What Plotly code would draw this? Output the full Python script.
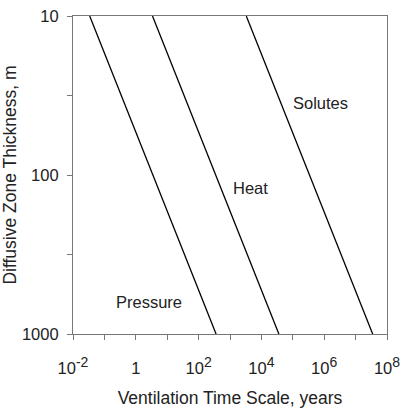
import plotly.graph_objects as go
import numpy as np

# Data: diffusive zone thickness (m) and ventilation time scale (years) endpoints
thickness = [10, 1000]
pressure_time = [0.034, 360]
heat_time = [3.4, 36000]
solutes_time = [3300, 3.5e7]

x_tickvals = [1e-2, 1e-1, 1, 1e1, 1e2, 1e3, 1e4, 1e5, 1e6, 1e7, 1e8]
x_exponents = ["-2", "", "0", "", "2", "", "4", "", "6", "", "8"]
y_tickvals = [10, 31.6228, 100, 316.228, 1000]
y_ticktext = ["10", "", "100", "", "1000"]

labels = ["Pressure", "Heat", "Solutes"]
label_x = [10**0.42, 10**3.65, 10**5.87]
label_y = [10**2.80, 10**2.08, 10**1.55]


def fmt(e):
    if e == "":
        return ""
    if e == "0":
        return "1"
    return "10<sup><span style='font-size:14px'>" + e + "</span></sup>"


x_ticktext = [fmt(e) for e in x_exponents]

fig = go.Figure()
for t in [pressure_time, heat_time, solutes_time]:
    fig.add_trace(go.Scatter(x=t, y=thickness, mode="lines",
                             line=dict(color="black", width=1.3), showlegend=False))

for lab, lx, ly in zip(labels, label_x, label_y):
    fig.add_annotation(x=np.log10(lx), y=np.log10(ly), text=lab, showarrow=False,
                       font=dict(size=16.5, color="#222"))

axis_common = dict(showgrid=False, zeroline=False, showline=True, linecolor="#777",
                   linewidth=1.2, mirror=True, ticks="outside", ticklen=5,
                   tickcolor="#777", tickfont=dict(size=16.5, color="#222"),
                   automargin=False)

fig.update_xaxes(type="log", range=[-2, 8], tickvals=x_tickvals, ticktext=x_ticktext,
                 ticklabelstandoff=14,
                 title=dict(text="Ventilation Time Scale, years", font=dict(size=17.5, color="#222"), standoff=15),
                 **axis_common)
fig.update_yaxes(type="log", range=[3, 1], tickvals=y_tickvals, ticktext=y_ticktext,
                 ticklabelstandoff=5,
                 title=dict(text="Diffusive Zone Thickness, m", font=dict(size=17.5, color="#222"), standoff=10),
                 **axis_common)

fig.update_layout(width=401, height=417, margin=dict(l=73, r=14, t=16, b=83),
                  plot_bgcolor="white", paper_bgcolor="white",
                  font=dict(family="Liberation Sans, Arial, sans-serif"))

fig.write_html("out.html")
